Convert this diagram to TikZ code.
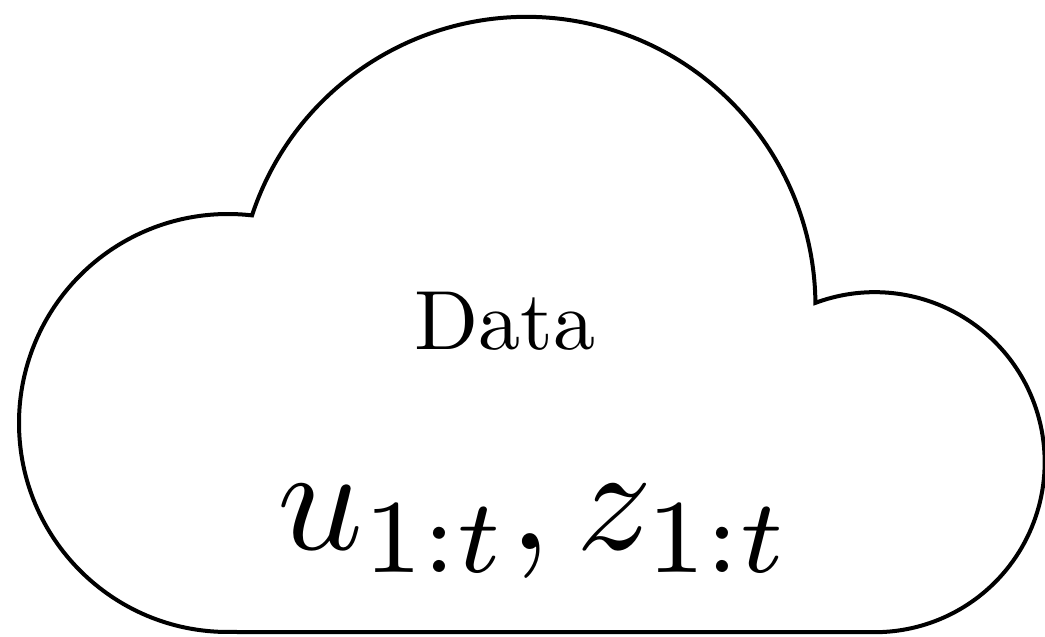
\documentclass[tikz,border=0pt]{standalone}
\begin{document}
\begin{tikzpicture}[x=1pt,y=1pt,
  cloudline/.style={line width=4pt, line join=miter, miter limit=20},
  lbl/.style={inner sep=0pt, anchor=base, transform shape}]
\useasboundingbox (0,0) rectangle (1045,637);
\draw[cloudline] (228,5) arc[start angle=270, end angle=83.4, radius=209]
  arc[start angle=161.75, end angle=0.6, radius=289]
  arc[start angle=110.4, end angle=-90, radius=170] -- cycle;
\node[lbl, scale=8.4] (data) at (505,287) {Data};
\node[lbl, scale=15] (vars) at (535,87) {$u_{1:t}, z_{1:t}$};
\end{tikzpicture}
\end{document}
